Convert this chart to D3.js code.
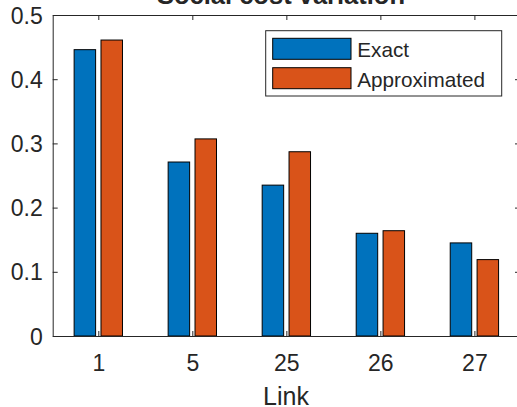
<!DOCTYPE html>
<html>
<head>
<meta charset="utf-8">
<script src="https://cdn.jsdelivr.net/npm/d3@7"></script>
<style>
  html, body { margin: 0; padding: 0; background: #fff; }
  svg { display: block; }
  text { font-family: "Liberation Sans", Arial, Helvetica, sans-serif; fill: #262626; }
</style>
</head>
<body>
<script>
// Link identifiers on the x axis
const links = ["1", "5", "25", "26", "27"];
// Social cost variation per link
const exactValues = [0.446, 0.271, 0.235, 0.160, 0.145];
const approxValues = [0.461, 0.307, 0.287, 0.164, 0.119];
const seriesNames = ["Exact", "Approximated"];
const seriesColors = ["#0072BD", "#D95319"];
const yTicks = [0, 0.1, 0.2, 0.3, 0.4, 0.5];

const W = 517, H = 407;
const plotLeft = 52.7, plotRight = 520, plotTop = 15, plotBottom = 336;

const svg = d3.select("body").append("svg")
  .attr("width", W).attr("height", H);

// x is positional (1..n); grouped bars like MATLAB's bar()
const x = d3.scaleLinear().domain([0.515, links.length + 0.485]).range([plotLeft, plotRight]);
const y = d3.scaleLinear().domain([0, 0.5]).range([plotBottom, plotTop]);

const nSeries = 2;
const groupWidth = Math.min(0.8, nSeries / (nSeries + 1.5));
const barW = groupWidth / nSeries * 0.8;
const offsets = [-groupWidth / 4, groupWidth / 4];

const series = [exactValues, approxValues];
const unit = x(1) - x(0);

series.forEach((vals, s) => {
  svg.append("g").selectAll("rect")
    .data(vals)
    .join("rect")
    .attr("x", (d, i) => x(i + 1 + offsets[s]) - barW * unit / 2)
    .attr("width", barW * unit)
    .attr("y", d => y(d))
    .attr("height", d => y(0) - y(d))
    .attr("fill", seriesColors[s])
    .attr("stroke", "#000")
    .attr("stroke-width", 1);
});

// Axes box with inward ticks
const axisColor = "#262626";
const tickLen = 5;

const xAxisB = d3.axisBottom(x).tickValues(d3.range(1, links.length + 1))
  .tickSizeInner(-tickLen).tickSizeOuter(0).tickFormat((d, i) => links[i]);
const xAxisT = d3.axisTop(x).tickValues(d3.range(1, links.length + 1))
  .tickSizeInner(-tickLen).tickSizeOuter(0).tickFormat("");
const yAxisL = d3.axisLeft(y).tickValues(yTicks)
  .tickSizeInner(-tickLen).tickSizeOuter(0).tickFormat(d3.format(""));
const yAxisR = d3.axisRight(y).tickValues(yTicks)
  .tickSizeInner(-tickLen).tickSizeOuter(0).tickFormat("");

function styleAxis(sel) {
  sel.select(".domain").attr("stroke", axisColor);
  sel.selectAll(".tick line").attr("stroke", axisColor);
  sel.selectAll(".tick text").attr("fill", axisColor)
    .style("font-family", '"Liberation Sans", Arial, Helvetica, sans-serif')
    .style("font-size", "23px");
}

svg.append("g").attr("transform", `translate(0,${plotBottom})`).call(xAxisB).call(styleAxis)
  .selectAll(".tick text").attr("dy", null).attr("y", 35);
svg.append("g").attr("transform", `translate(0,${plotTop})`).call(xAxisT).call(styleAxis);
svg.append("g").attr("transform", `translate(${plotLeft},0)`).call(yAxisL).call(styleAxis)
  .selectAll(".tick text").attr("dy", "0.35em").attr("x", -10);
svg.append("g").attr("transform", `translate(${plotRight},0)`).call(yAxisR).call(styleAxis);

// Axis label and title
svg.append("text")
  .attr("x", 286).attr("y", 405)
  .attr("text-anchor", "middle")
  .style("font-size", "25px")
  .text("Link");

svg.append("text")
  .attr("x", 281).attr("y", 4)
  .attr("text-anchor", "middle")
  .style("font-size", "25.5px")
  .style("font-weight", "bold")
  .text("Social cost variation");

// Legend
const legend = svg.append("g");
legend.append("rect")
  .attr("x", 265.7).attr("y", 30.7)
  .attr("width", 236).attr("height", 65.3)
  .attr("fill", "#fff").attr("stroke", axisColor).attr("stroke-width", 1);

const rowY = [48.8, 78.2];
seriesNames.forEach((name, s) => {
  legend.append("rect")
    .attr("x", 272.7).attr("y", rowY[s] - 10.5)
    .attr("width", 78.3).attr("height", 21)
    .attr("fill", seriesColors[s]).attr("stroke", "#000").attr("stroke-width", 1);
  legend.append("text")
    .attr("x", 357.3).attr("y", rowY[s] + 8.3)
    .style("font-size", "20.7px")
    .text(name);
});
</script>
</body>
</html>
